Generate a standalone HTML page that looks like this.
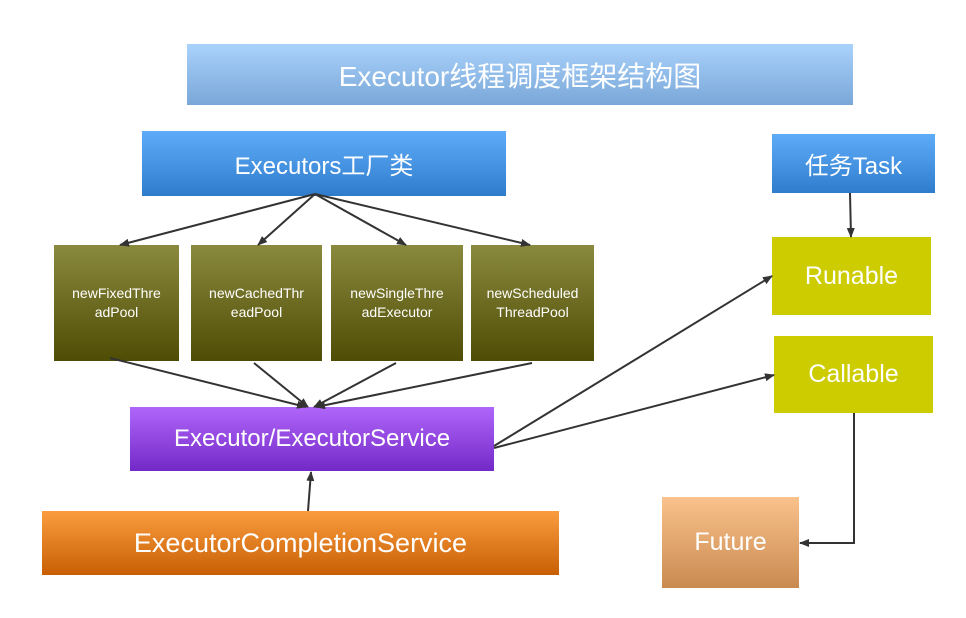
<!DOCTYPE html>
<html><head><meta charset="utf-8"><style>
body{margin:0;width:966px;height:618px;background:#fff;position:relative;overflow:hidden;font-family:"Liberation Sans","Noto Sans CJK SC",sans-serif}
.b{position:absolute;display:flex;align-items:center;justify-content:center;text-align:center;color:#fff}
.pool{background:linear-gradient(#8a8a3e,#4f4c05);font-size:14px;line-height:19px;top:245px;height:116px}
</style></head><body>
<div class="b" style="left:187px;top:44px;width:666px;height:61px;background:linear-gradient(#a9d2fb,#7aa7d8);font-size:28px">Executor线程调度框架结构图</div>
<div class="b" style="left:142px;top:131px;width:364px;height:65px;background:linear-gradient(#5eacf8,#2f7ccd);font-size:24px">Executors工厂类</div>
<div class="b pool" style="left:54px;width:125px">newFixedThre<br>adPool</div>
<div class="b pool" style="left:191px;width:131px">newCachedThr<br>eadPool</div>
<div class="b pool" style="left:331px;width:132px">newSingleThre<br>adExecutor</div>
<div class="b pool" style="left:471px;width:123px">newScheduled<br>ThreadPool</div>
<div class="b" style="left:130px;top:407px;width:364px;height:64px;background:linear-gradient(#b066fa,#7329c6);font-size:24px">Executor/ExecutorService</div>
<div class="b" style="left:42px;top:511px;width:517px;height:64px;background:linear-gradient(#fa9d3e,#c85f05);font-size:27px">ExecutorCompletionService</div>
<div class="b" style="left:772px;top:134px;width:163px;height:59px;background:linear-gradient(#5eacf8,#2f7ccd);font-size:24px">任务Task</div>
<div class="b" style="left:772px;top:237px;width:159px;height:78px;background:#cccc00;font-size:25px">Runable</div>
<div class="b" style="left:774px;top:336px;width:159px;height:77px;background:#cccc00;font-size:25px">Callable</div>
<div class="b" style="left:662px;top:497px;width:137px;height:91px;background:linear-gradient(#fac28c,#c98a50);font-size:25px">Future</div>
<svg width="966" height="618" style="position:absolute;left:0;top:0">
<defs><marker id="a" markerWidth="10" markerHeight="8" refX="9" refY="4" orient="auto" markerUnits="userSpaceOnUse"><path d="M0,0L10,4L0,8z" fill="#333"/></marker></defs>
<g stroke="#333" stroke-width="2" fill="none" marker-end="url(#a)">
<line x1="315" y1="194" x2="120" y2="245"/>
<line x1="315" y1="194" x2="258" y2="245"/>
<line x1="315" y1="194" x2="406" y2="245"/>
<line x1="315" y1="194" x2="530" y2="245"/>
<line x1="110" y1="358" x2="306" y2="407"/>
<line x1="254" y1="363" x2="308" y2="407"/>
<line x1="396" y1="363" x2="314" y2="407"/>
<line x1="532" y1="363" x2="316" y2="407"/>
<line x1="494" y1="446" x2="772" y2="276"/>
<line x1="494" y1="448" x2="774" y2="375"/>
<line x1="308" y1="511" x2="311" y2="472"/>
<line x1="850" y1="193" x2="851" y2="237"/>
<polyline points="854,413 854,543 800,543"/>
</g></svg>
</body></html>
